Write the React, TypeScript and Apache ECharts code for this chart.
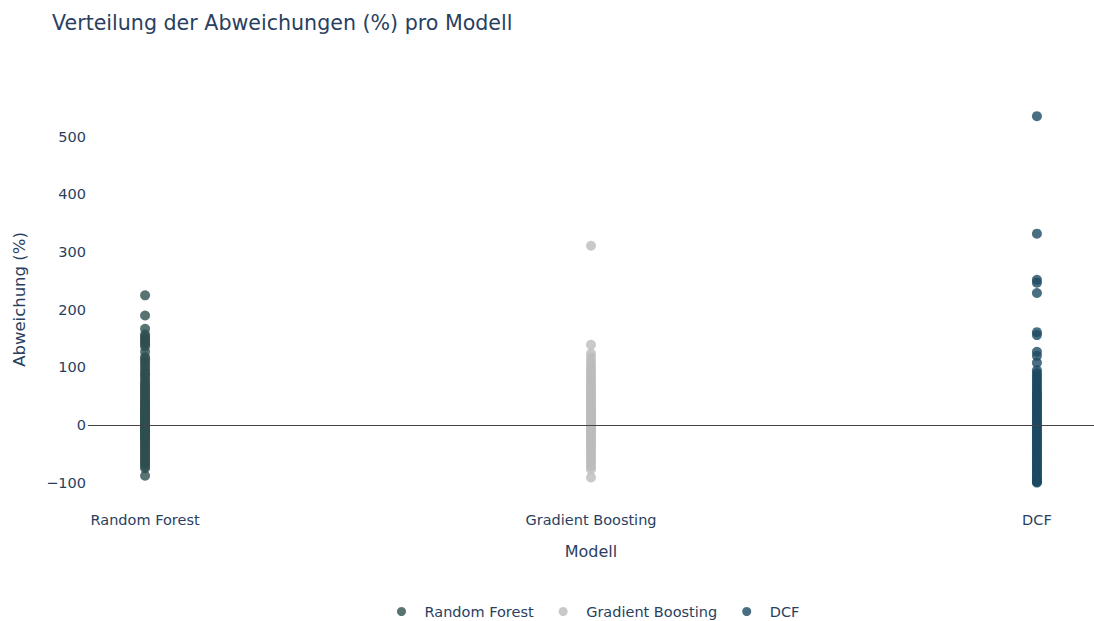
import React, { useEffect, useRef } from "react";
import * as echarts from "echarts";

const categories = ["Random Forest", "Gradient Boosting", "DCF"];
const yTicks = [-100, 0, 100, 200, 300, 400, 500];

const randomForest = [225, 190, 167, 157, 153, 150, 147, 143, 140, 136, 127, 118, 114, 110, 106, 101, 96, 92, 88, 85, 80, 76, 72, 69, 66, 63, 60, 57, 54, 51, 48, 45, 42, 40, 37, 35, 32, 30, 28, 25, 23, 21, 19, 17, 15, 13, 11, 9, 7, 5, 3, 1, -1, -3, -5, -7, -9, -11, -13, -15, -17, -19, -21, -23, -25, -27, -30, -32, -35, -38, -41, -44, -47, -50, -53, -56, -59, -62, -65, -68, -72, -75, -88];
const gradientBoosting = [311, 139, 124, 117, 110, 105, 100, 95, 91, 87, 83, 79, 75, 71, 67, 63, 60, 57, 54, 51, 48, 45, 42, 39, 36, 33, 30, 28, 25, 22, 20, 17, 15, 12, 10, 8, 5, 3, 1, -2, -4, -7, -9, -12, -14, -17, -20, -23, -26, -29, -32, -35, -38, -41, -44, -48, -52, -56, -60, -64, -68, -72, -77, -91];
const dcf = [536, 332, 252, 247, 229, 161, 156, 127, 120, 108, 95, 90, 86, 82, 78, 74, 70, 66, 62, 58, 55, 52, 49, 46, 43, 40, 37, 34, 31, 28, 25, 22, 19, 16, 13, 10, 7, 4, 1, -2, -5, -8, -11, -14, -17, -20, -23, -26, -29, -32, -35, -38, -41, -44, -47, -50, -53, -56, -59, -62, -65, -68, -71, -74, -77, -80, -83, -86, -89, -92, -95, -97, -98, -99, -100];

const seriesValues = [randomForest, gradientBoosting, dcf];
const colors = ["#2F4F4F", "#BBBBBB", "#1D4A63"];

const FONT = "DejaVu Sans";
const TXT = "#2a3f5f";

export default function App() {
  const ref = useRef<HTMLDivElement>(null);
  useEffect(() => {
    document.body.style.margin = "0";
    const chart = echarts.init(ref.current!, null, { renderer: "svg" });
    const series: any[] = seriesValues.map((vals, i) => ({
      name: categories[i],
      type: "scatter",
      z: 3,
      symbol: "circle",
      symbolSize: 10,
      itemStyle: { color: colors[i], opacity: 0.8 },
      data: vals.map((v) => [i, v]),
    }));
    series.unshift({
      name: "__zero",
      type: "scatter",
      z: 1,
      data: [],
      silent: true,
      markLine: {
        silent: true,
        symbol: "none",
        label: { show: false },
        lineStyle: { color: "#444444", width: 1, type: "solid" },
        data: [{ yAxis: 0 }],
      },
    });
    chart.setOption({
      animation: false,
      backgroundColor: "#ffffff",
      textStyle: { fontFamily: FONT },
      title: {
        text: "Verteilung der Abweichungen (%) pro Modell",
        left: 47,
        top: 7,
        textStyle: { fontFamily: FONT, fontSize: 20.6, fontWeight: "normal", color: TXT },
      },
      legend: {
        data: categories,
        left: 392,
        top: 599,
        icon: "circle",
        itemWidth: 36,
        itemHeight: 9,
        itemGap: 25,
        textStyle: { fontFamily: FONT, fontSize: 14.5, color: TXT },
      },
      grid: { left: 88, right: -1, top: 100, bottom: 122, containLabel: false },
      xAxis: {
        type: "value",
        min: -0.128,
        max: 2.128,
        name: "Modell",
        nameLocation: "middle",
        nameGap: 44,
        nameTextStyle: { fontFamily: FONT, fontSize: 16, color: TXT },
        axisLine: { show: false },
        axisTick: { show: false },
        splitLine: { show: false },
        axisLabel: {
          customValues: [0, 1, 2],
          margin: 13,
          fontFamily: FONT,
          fontSize: 14.5,
          color: TXT,
          formatter: (v: number) => categories[Math.round(v)] ?? "",
        },
      },
      yAxis: {
        type: "value",
        min: -128.5,
        max: 564,
        name: "Abweichung (%)",
        nameLocation: "middle",
        nameGap: 60,
        nameTextStyle: { fontFamily: FONT, fontSize: 16.5, color: TXT },
        axisLine: { show: false },
        axisTick: { show: false },
        splitLine: { show: false },
        axisLabel: {
          customValues: yTicks,
          margin: 2,
          fontFamily: FONT,
          fontSize: 14.5,
          color: TXT,
          formatter: (v: number) => (v < 0 ? "\u2212" + Math.abs(v) : String(v)),
        },
      },
      series,
    });
    return () => chart.dispose();
  }, []);
  return <div ref={ref} style={{ width: 1094, height: 621 }} />;
}
